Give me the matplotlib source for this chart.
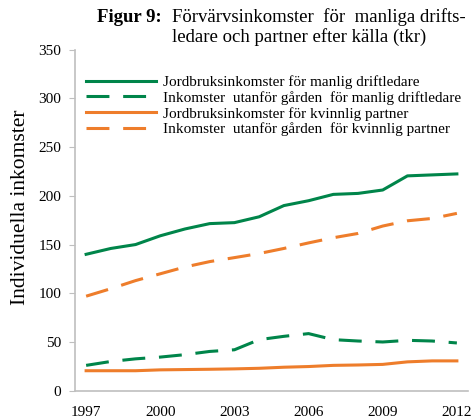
import matplotlib.pyplot as plt

years = list(range(1997, 2013))
jord_man = [140, 146, 150, 159, 166, 171.5, 172.5, 178.5, 190, 195, 201.5, 202.5, 206, 220.5, 221.5, 222.5]
ink_man = [26, 30, 32.7, 34.5, 37, 40.3, 42, 52.4, 55.8, 58.6, 52.4, 51, 50, 51.7, 51, 49]
jord_kv = [20.5, 20.5, 20.5, 21.4, 21.7, 22, 22.4, 23, 24.1, 24.8, 26, 26.4, 27, 29.6, 30.6, 30.6]
ink_kv = [97, 104.7, 113, 120, 127, 132.5, 136.6, 140.8, 146, 151.7, 157, 161.4, 169, 174.4, 176.8, 182]
labels = ["Jordbruksinkomster för manlig driftledare",
          "Inkomster  utanför gården  för manlig driftledare",
          "Jordbruksinkomster för kvinnlig partner",
          "Inkomster  utanför gården  för kvinnlig partner"]
xticks = [1997, 2000, 2003, 2006, 2009, 2012]
yticks = [0, 50, 100, 150, 200, 250, 300, 350]

green = "#00854A"
orange = "#EE7D2B"
plt.rcParams['font.family'] = ['Liberation Serif', 'DejaVu Serif']

fig = plt.figure(figsize=(4.72, 4.18), dpi=100)
ax = fig.add_axes([75 / 472, 1 - 390.7 / 418, 393 / 472, 341 / 418])

dash = (0, (7.5, 4.5))
ax.plot(years, jord_man, color=green, lw=2.2, label=labels[0])
ax.plot(years, ink_man, color=green, lw=2.2, ls=dash, label=labels[1])
ax.plot(years, jord_kv, color=orange, lw=2.2, label=labels[2])
ax.plot(years, ink_kv, color=orange, lw=2.2, ls=dash, label=labels[3])

ax.set_xlim(1996.55, 2012.45)
ax.set_ylim(0, 350)
ax.set_xticks(xticks)
ax.set_yticks(yticks)
ax.tick_params(axis='x', length=0, labelsize=11, pad=11)
ax.tick_params(axis='y', length=4, color="#BFBFBF", labelsize=11, pad=6)
for s in ['top', 'right']:
    ax.spines[s].set_visible(False)
for s in ['left', 'bottom']:
    ax.spines[s].set_color("#BFBFBF")
    ax.spines[s].set_linewidth(1.2)

ax.set_ylabel("Individuella inkomster", fontsize=15.5)
ax.yaxis.set_label_coords(-0.115, 0.539)

leg = ax.legend(loc='upper left', bbox_to_anchor=(0.028, 0.925), frameon=False,
                fontsize=11, handlelength=4.6, handletextpad=0.45,
                labelspacing=0.13, borderaxespad=0.0, borderpad=0.0)

fig.text(97 / 472, 1 - 17 / 418, "Figur 9:", fontsize=13.5, fontweight='bold', va='center')
fig.text(172 / 472, 1 - 17 / 418, "Förvärvsinkomster  för  manliga drifts-",
         fontsize=13.5, va='center')
fig.text(172 / 472, 1 - 37 / 418, "ledare och partner efter källa (tkr)",
         fontsize=13.5, va='center')

fig.savefig("out.png", dpi=100)
